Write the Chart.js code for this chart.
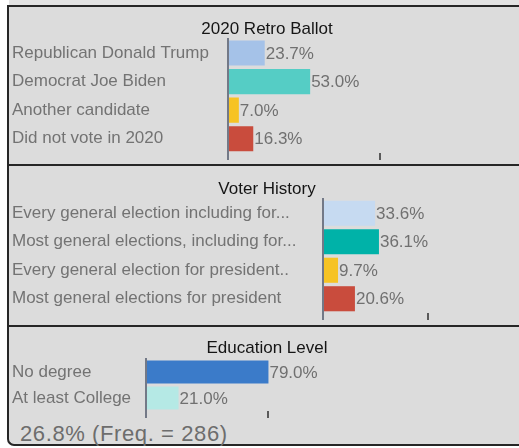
<!DOCTYPE html>
<html>
<head>
<meta charset="utf-8">
<script src="https://cdn.jsdelivr.net/npm/chart.js@4/dist/chart.umd.min.js"></script>
<style>
html,body{margin:0;padding:0;background:#ffffff;width:519px;height:448px;overflow:hidden;font-family:"Liberation Sans",Arial,sans-serif;}
#topstrip{position:absolute;left:9px;top:0;width:520px;height:5px;background:#e3e3e3;}
#frame{position:absolute;left:7px;top:5px;width:530px;height:437px;background:#dcdcdc;border:2px solid #262626;border-right:none;border-bottom-left-radius:7px;}
.sep{position:absolute;left:9px;width:520px;height:2px;background:#262626;}
canvas{position:absolute;left:12px;}
#foot{position:absolute;left:20px;top:423px;font-size:22px;line-height:22px;letter-spacing:0.6px;color:#6d6d6d;white-space:nowrap;}
</style>
</head>
<body>
<div id="topstrip"></div>
<div id="frame"></div>
<div class="sep" style="top:164px"></div>
<div class="sep" style="top:325px"></div>
<canvas id="c1"></canvas>
<canvas id="c2"></canvas>
<canvas id="c3"></canvas>
<div id="foot"></div>
<script>
// ---- data ----
const panelTitles = ["2020 Retro Ballot", "Voter History", "Education Level"];
const ballotCategories = ["Republican Donald Trump", "Democrat Joe Biden", "Another candidate", "Did not vote in 2020"];
const ballotValues = [23.7, 53.0, 7.0, 16.3];
const historyCategories = ["Every general election including for...", "Most general elections, including for...", "Every general election for president..", "Most general elections for president"];
const historyValues = [33.6, 36.1, 9.7, 20.6];
const educationCategories = ["No degree", "At least College"];
const educationValues = [79.0, 21.0];
const tickMarks = [98, 68, 79];
const footerText = "26.8% (Freq. = 286)";

// ---- styles / layout ----
const ballotColors = ["#a5c2e8", "#55cdc5", "#f6c324", "#c94c3d"];
const historyColors = ["#c6daf1", "#00b2a8", "#f6c324", "#c94c3d"];
const educationColors = ["#3b7bc9", "#b5e9e5"];
const pxPerPct = 1.55;
const canvasWidth = 510;
const canvasLeft = 12;
const layouts = [
  {id:"c1", top:7,   titleY:29,    areaTop:38.75, areaBottom:152.75, axisX:228},
  {id:"c2", top:167, titleY:189,   areaTop:199,   areaBottom:312.5,  axisX:323},
  {id:"c3", top:328, titleY:348.5, areaTop:359,   areaBottom:411,    axisX:146}
];
const FONT = '"Liberation Sans", Arial, sans-serif';
const axisColor = "#737987";

document.getElementById("foot").textContent = footerText;

const valueLabels = {
  id: "valueLabels",
  afterDatasetsDraw(chart) {
    const ctx = chart.ctx;
    const meta = chart.getDatasetMeta(0);
    const data = chart.data.datasets[0].data;
    ctx.save();
    ctx.font = "17px " + FONT;
    ctx.fillStyle = "#707070";
    ctx.textAlign = "left";
    ctx.textBaseline = "middle";
    meta.data.forEach((bar, i) => {
      ctx.fillText(data[i].toFixed(1) + "%", bar.x + 1, bar.y + 1);
    });
    ctx.restore();
  }
};

function makePanel(layout, title, cats, vals, colors, tickVal) {
  const canvas = document.getElementById(layout.id);
  const h = Math.round(layout.areaBottom - layout.top + 7);
  canvas.width = canvasWidth; canvas.height = h;
  canvas.style.top = layout.top + "px";
  canvas.style.width = canvasWidth + "px"; canvas.style.height = h + "px";
  const yWidth = layout.axisX - canvasLeft;
  const xMax = (canvasWidth - yWidth) / pxPerPct;
  const lh = 17;
  const padTop = layout.titleY - layout.top - lh / 2;
  const padBottom = layout.areaTop - layout.top - padTop - lh;
  new Chart(canvas, {
    type: "bar",
    data: {
      labels: cats,
      datasets: [{data: vals, backgroundColor: colors, borderWidth: 0, barPercentage: 1.0, categoryPercentage: 0.88}]
    },
    options: {
      indexAxis: "y",
      responsive: false,
      animation: false,
      devicePixelRatio: 1,
      layout: {padding: 0},
      plugins: {
        legend: {display: false},
        tooltip: {enabled: false},
        title: {display: true, text: title, color: "#151515", font: {family: FONT, size: 17, weight: "normal", lineHeight: 1}, padding: {top: padTop, bottom: padBottom}}
      },
      scales: {
        y: {
          type: "category",
          position: "left",
          afterFit: s => { s.width = yWidth; s.paddingTop = 0; s.paddingBottom = 0; },
          grid: {display: false},
          border: {display: true, color: axisColor, width: 2},
          ticks: {crossAlign: "far", autoSkip: false, color: "#737373", font: {family: FONT, size: 17}}
        },
        x: {
          type: "linear",
          min: 0, max: xMax,
          afterFit: s => { s.height = 7; s.paddingLeft = 0; s.paddingRight = 0; },
          afterBuildTicks: s => { s.ticks = [{value: 0}, {value: tickVal}]; },
          border: {display: false},
          grid: {display: true, drawOnChartArea: false, drawTicks: true, tickLength: 7, lineWidth: 2,
                 color: c => (c.tick && c.tick.value === 0) ? axisColor : "#5a5a5a"},
          ticks: {display: false}
        }
      }
    },
    plugins: [valueLabels]
  });
}

makePanel(layouts[0], panelTitles[0], ballotCategories, ballotValues, ballotColors, tickMarks[0]);
makePanel(layouts[1], panelTitles[1], historyCategories, historyValues, historyColors, tickMarks[1]);
makePanel(layouts[2], panelTitles[2], educationCategories, educationValues, educationColors, tickMarks[2]);
</script>
</body>
</html>
